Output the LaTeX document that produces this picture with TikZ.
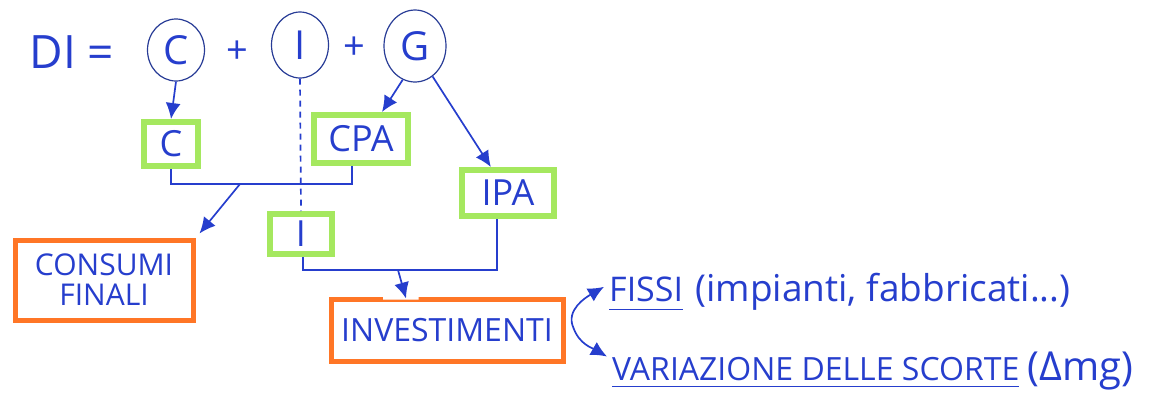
\documentclass[tikz,border=0pt]{standalone}
\usepackage{fontspec}
\setmainfont{Open Sans}
\usetikzlibrary{arrows.meta,shapes.geometric,calc}
\definecolor{ink}{RGB}{38,62,205}
\definecolor{navy}{RGB}{40,60,150}
\definecolor{lime}{RGB}{165,232,95}
\definecolor{tang}{RGB}{255,118,38}
\newcommand{\fs}[1]{\fontsize{#1}{#1}\selectfont}
\begin{document}
\begin{tikzpicture}[x=1pt,y=-1pt,
  every node/.style={text=ink, inner sep=0pt},
  term/.style={draw=navy, line width=1.2pt, ellipse, minimum width=57pt, minimum height=62pt, font=\fs{40}},
  part/.style={draw=lime, line width=6pt, rectangle, font=\fs{36}},
  total/.style={draw=tang, line width=5pt, rectangle, align=center},
  link/.style={draw=ink, line width=1.7pt},
  flow/.style={link, -{Latex[length=16pt,width=15pt]}},
  label/.style={font=\fs{34}, anchor=base west}
]
\useasboundingbox (0,0) rectangle (1169,394);

% equation: DI = C + I + G
\node[font=\fs{46}] (di) at (72,52) {DI =};
\node[term] (cC) at (176,50) {C};
\node[font=\fs{38}] (p1) at (237,52) {+};
\node[term, minimum height=66pt] (cI) at (300,45) {I};
\node[font=\fs{38}] (p2) at (354,48) {+};
\node[term, minimum width=62pt, minimum height=72pt] (cG) at (415,46) {G};

% components
\node[part, minimum width=54pt, minimum height=44pt] (bC) at (171,144) {C};
\node[part, minimum width=94pt, minimum height=48pt] (bCPA) at (361,139) {CPA};
\node[part, minimum width=92pt, minimum height=46pt] (bIPA) at (508,193) {IPA};
\node[part, minimum width=62pt, minimum height=40pt] (bI) at (301,234) {I};

% aggregates
\node[total, minimum width=178pt, minimum height=80pt, font=\fs{30}] (bCF) at (104,280) {CONSUMI\\FINALI};
\node[total, minimum width=232pt, minimum height=62pt, font=\fs{32}] (bINV) at (447,330) {INVESTIMENTI};
% opening in the top edge where the arrow enters
\draw[white, line width=6pt] ($(bINV.north west)!0.23!(bINV.north east)$) -- ($(bINV.north west)!0.38!(bINV.north east)$);

% breakdown of investment
\node[label] (fissi) at (609,301) {FISSI};
\node[label, font=\fs{37}] (fissinote) at ([xshift=12pt]fissi.base east) {(impianti, fabbricati...)};
\node[label, font=\fs{32}] (scorte) at (612,380) {VARIAZIONE DELLE SCORTE};
\node[label, font=\fs{40}] (delta) at ([xshift=8pt]scorte.base east) {(Δmg)};
\draw[link, line width=1.3pt] ([yshift=-8pt]fissi.south west) -- ([yshift=-8pt]fissi.south east);
\draw[link, line width=1.3pt] ([yshift=-6pt]scorte.south west) -- ([yshift=-6pt]scorte.south east);

% arrows from the equation
\draw[flow] (cC.south) -- (bC.north);
\draw[flow] (cG.250) -- ($(bCPA.north)!0.42!(bCPA.north east)$);
\draw[flow] (cG.300) -- ($(bIPA.north)!0.35!(bIPA.north west)$);
\draw[link, dashed, dash pattern=on 6pt off 5pt] (cI.south) -- (bI.north);

% C and CPA feed final consumption
\coordinate (j1) at (240,184);
\draw[link] (bC.south) |- (j1) -| ($(bCPA.south)+(-9,0)$);
\draw[flow] (j1) -- ([xshift=4pt,yshift=4pt]bCF.north east);

% I and IPA feed investment
\coordinate (j2) at (398,270);
\draw[link] ($(bI.south)+(2,0)$) |- (j2) -| ($(bIPA.south)+(-11,0)$);
\draw[flow] (j2) -- ($(bINV.north)+(-41,2)$);

% investment splits in two
\draw[flow] ([xshift=8pt,yshift=2pt]bINV.east) to[out=115,in=210] ([xshift=-5pt,yshift=2pt]fissi.west);
\draw[flow] ([xshift=8pt,yshift=2pt]bINV.east) to[out=-70,in=150] ([xshift=-5pt,yshift=12pt]scorte.west);
\end{tikzpicture}
\end{document}
